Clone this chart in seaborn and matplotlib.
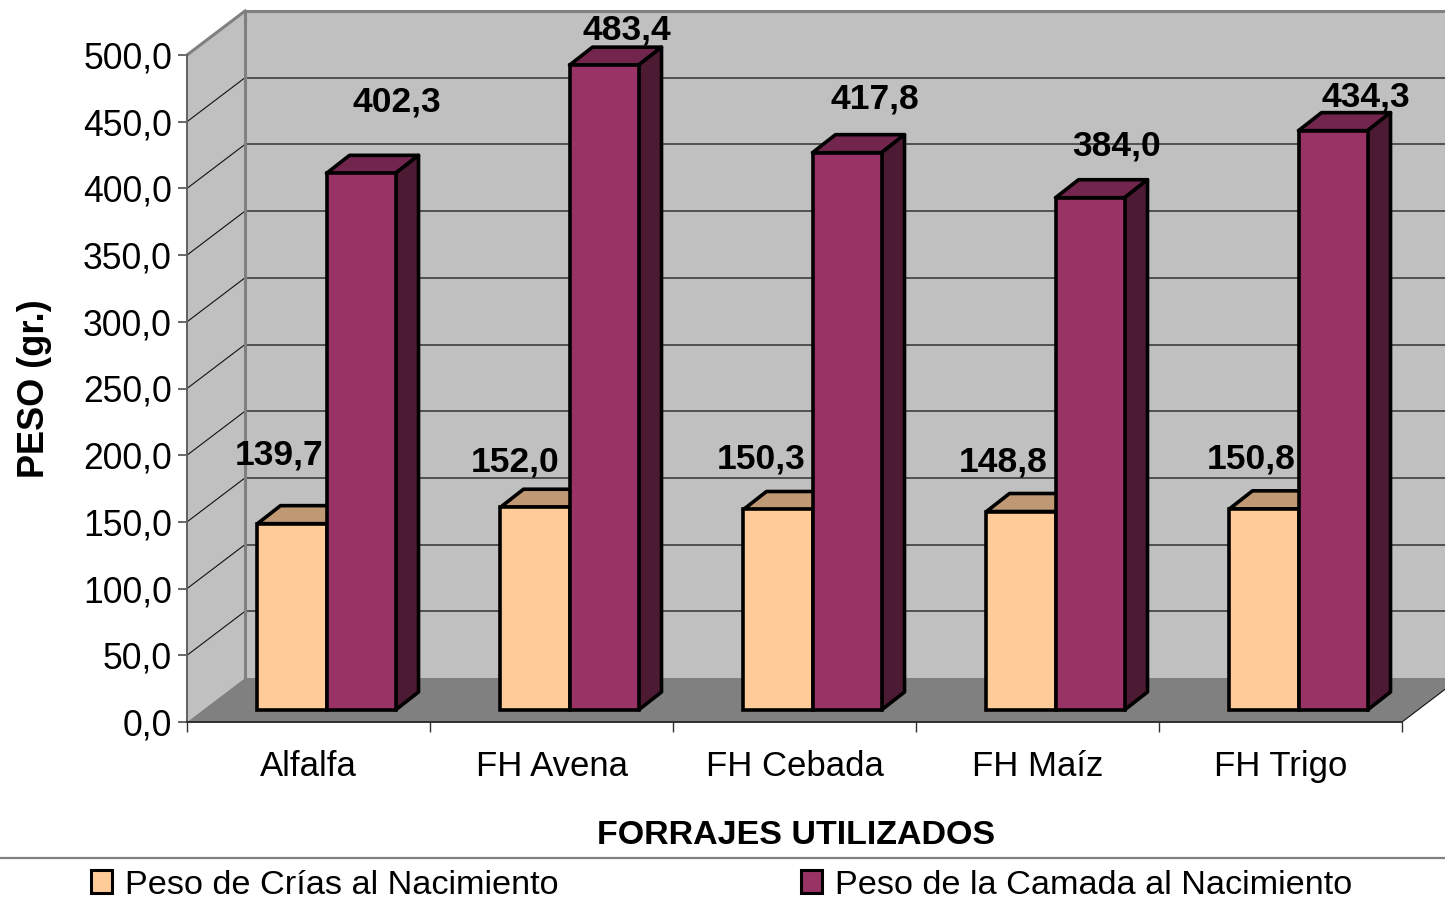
import pandas as pd
import matplotlib
matplotlib.use("Agg")
import matplotlib.pyplot as plt
import seaborn as sns
from matplotlib.lines import Line2D
from matplotlib.patches import Patch, Polygon
from matplotlib.transforms import Affine2D, IdentityTransform

# Data
forrajes = ["Alfalfa", "FH Avena", "FH Cebada", "FH Maíz", "FH Trigo"]
peso_crias = [139.7, 152.0, 150.3, 148.8, 150.8]
peso_camada = [402.3, 483.4, 417.8, 384.0, 434.3]
y_ticks = [0, 50, 100, 150, 200, 250, 300, 350, 400, 450, 500]
serie_crias = "Peso de Crías al Nacimiento"
serie_camada = "Peso de la Camada al Nacimiento"

# Label offsets from the top centre of each bar (pixels)
offset_crias = [(-13, 69), (-20, 45), (-17, 50), (-18, 50), (-13, 50)]
offset_camada = [(36, 71), (23, 35), (28, 54), (27, 52), (33, 34)]

# Colours
ORANGE, ORANGE_TOP, ORANGE_SIDE = "#FFCC99", "#BF9973", "#806650"
PURPLE, PURPLE_TOP, PURPLE_SIDE = "#993366", "#73264D", "#4D1A33"
WALL, FLOOR, FRAME = "#C0C0C0", "#808080", "#808080"

W, H = 1445, 910
BACK = (58, 44)        # front plane to back wall, px
BAR_SHIFT = (18, 12)   # front plane to bar front, px
BAR_DEPTH = (23, 18)   # bar front to bar back, px

sns.set_style("white")
plt.rcParams["font.family"] = ["Liberation Sans", "DejaVu Sans"]
plt.rcParams["text.color"] = "black"

fig = plt.figure(figsize=(W / 100, H / 100), dpi=100)
ax = fig.add_axes([187 / W, (H - 722) / H, 1215 / W, 667 / H])
ax.patch.set_visible(False)

df = pd.DataFrame({
    "forraje": forrajes * 2,
    "peso": peso_crias + peso_camada,
    "serie": [serie_crias] * 5 + [serie_camada] * 5,
})
sns.barplot(data=df, x="forraje", y="peso", hue="serie",
            palette=[ORANGE, PURPLE], saturation=1, width=0.568, gap=0,
            edgecolor="black", linewidth=2.6, legend=False, zorder=3, ax=ax)

ax.set_xlim(-0.5, 4.5)
ax.set_ylim(0, 500)


def plane(x, y, depth=0.0):
    px, py = ax.transData.transform((x, y))
    return (px + depth * BACK[0], py + depth * BACK[1])


def add_poly(pts, **kw):
    ax.add_patch(Polygon(pts, closed=True, transform=IdentityTransform(),
                         clip_on=False, **kw))


def add_line(p, q, color, lw, zorder=1.5):
    ax.add_line(Line2D([p[0], q[0]], [p[1], q[1]], color=color, lw=lw,
                       transform=IdentityTransform(), clip_on=False,
                       zorder=zorder, solid_capstyle="projecting"))


# Walls and floor of the 3D box
add_poly([plane(-0.5, 0, 1), plane(4.5, 0, 1), plane(4.5, 500, 1), plane(-0.5, 500, 1)],
         facecolor=WALL, edgecolor="none", zorder=1)
add_poly([plane(-0.5, 0), plane(-0.5, 0, 1), plane(-0.5, 500, 1), plane(-0.5, 500)],
         facecolor=WALL, edgecolor="none", zorder=1)
add_poly([plane(-0.5, 0), plane(4.5, 0), plane(4.5, 0, 1), plane(-0.5, 0, 1)],
         facecolor=FLOOR, edgecolor="none", zorder=1.2)

for v in y_ticks[1:-1]:
    add_line(plane(-0.5, v), plane(-0.5, v, 1), "#111111", 0.8)
    add_line(plane(-0.5, v, 1), plane(4.5, v, 1), "#333333", 1.1)
add_line(plane(-0.5, 500), plane(-0.5, 500, 1), FRAME, 2.2)
add_line(plane(-0.5, 500, 1), plane(4.5, 500, 1), FRAME, 2.2)
add_line(plane(-0.5, 0, 1), plane(-0.5, 500, 1), FRAME, 2.2)
add_line(plane(4.5, 0), plane(4.5, 0, 1), "#111111", 0.8, zorder=1.4)

# Bars: seaborn draws the front faces, top and side faces added from them
shift = ax.transData + Affine2D().translate(*BAR_SHIFT)
groups = [
    (ax.containers[0], peso_crias, ORANGE_TOP, ORANGE_SIDE, offset_crias),
    (ax.containers[1], peso_camada, PURPLE_TOP, PURPLE_SIDE, offset_camada),
]
for bars, values, top_color, side_color, offsets in groups:
    for bar, value, off in zip(bars, values, offsets):
        bar.set_transform(shift)
        bar.set_clip_on(False)
        bar.set_joinstyle("miter")
        x0, x1 = bar.get_x(), bar.get_x() + bar.get_width()
        rb = shift.transform((x1, 0))
        lt = shift.transform((x0, value))
        rt = shift.transform((x1, value))
        dx, dy = BAR_DEPTH
        add_poly([lt, rt, (rt[0] + dx, rt[1] + dy), (lt[0] + dx, lt[1] + dy)],
                 facecolor=top_color, edgecolor="black", linewidth=2.6,
                 joinstyle="round", zorder=2)
        add_poly([rb, (rb[0] + dx, rb[1] + dy), (rt[0] + dx, rt[1] + dy), rt],
                 facecolor=side_color, edgecolor="black", linewidth=2.6,
                 joinstyle="round", zorder=2)
        ax.annotate(f"{value:.1f}".replace(".", ","), xy=((x0 + x1) / 2, value),
                    xycoords=shift, xytext=off, textcoords="offset pixels",
                    ha="center", va="center", fontsize=25.5, fontweight="bold",
                    color="black", zorder=5, annotation_clip=False)

# Axes, ticks and text
for name, spine in ax.spines.items():
    spine.set_visible(name in ("left", "bottom"))
    spine.set_zorder(1.6)
ax.spines["left"].set_color("#606060")
ax.spines["left"].set_linewidth(1.4)
ax.spines["bottom"].set_color("#303030")
ax.spines["bottom"].set_linewidth(1.4)

ax.set_yticks(y_ticks)
ax.set_yticklabels([f"{v:.1f}".replace(".", ",") for v in y_ticks], fontsize=25.6)
ax.tick_params(axis="y", left=True, length=6.5, width=1.1, color="#404040", pad=4.3, labelcolor="black")
ax.set_xticks(range(len(forrajes)))
ax.set_xticklabels(forrajes, fontsize=25)
ax.set_xticks([i - 0.5 for i in range(len(forrajes) + 1)], minor=True)
ax.tick_params(axis="x", which="major", bottom=False, length=0, pad=20.5, labelcolor="black")
ax.tick_params(axis="x", which="minor", bottom=True, length=7.5, width=1.0, color="#303030")

ax.set_xlabel("")
ax.set_ylabel("")
fig.text(35 / W, 1 - 389 / H, "PESO (gr.)", rotation=90, ha="center", va="center",
         fontsize=26, fontweight="bold", color="black")
fig.text(796 / W, 1 - 836 / H, "FORRAJES UTILIZADOS", ha="center", va="center",
         fontsize=24.5, fontweight="bold", color="black")

# Legend with rule above it
fig.add_artist(Line2D([0, 1], [1 - 858 / H] * 2, color="#808080", lw=1.6))
handles = [Patch(facecolor=ORANGE, edgecolor="black", linewidth=2.2, label=serie_crias),
           Patch(facecolor=PURPLE, edgecolor="black", linewidth=2.2, label=serie_camada)]
fig.legend(handles=handles, ncol=2, loc="center left", bbox_to_anchor=(91 / W, 1 - 885 / H),
           frameon=False, fontsize=24.7, labelcolor="black", handlelength=0.62, handleheight=0.62,
           handletextpad=0.38, columnspacing=7.05, borderpad=0, borderaxespad=0)

fig.savefig("out.png", dpi=100)
